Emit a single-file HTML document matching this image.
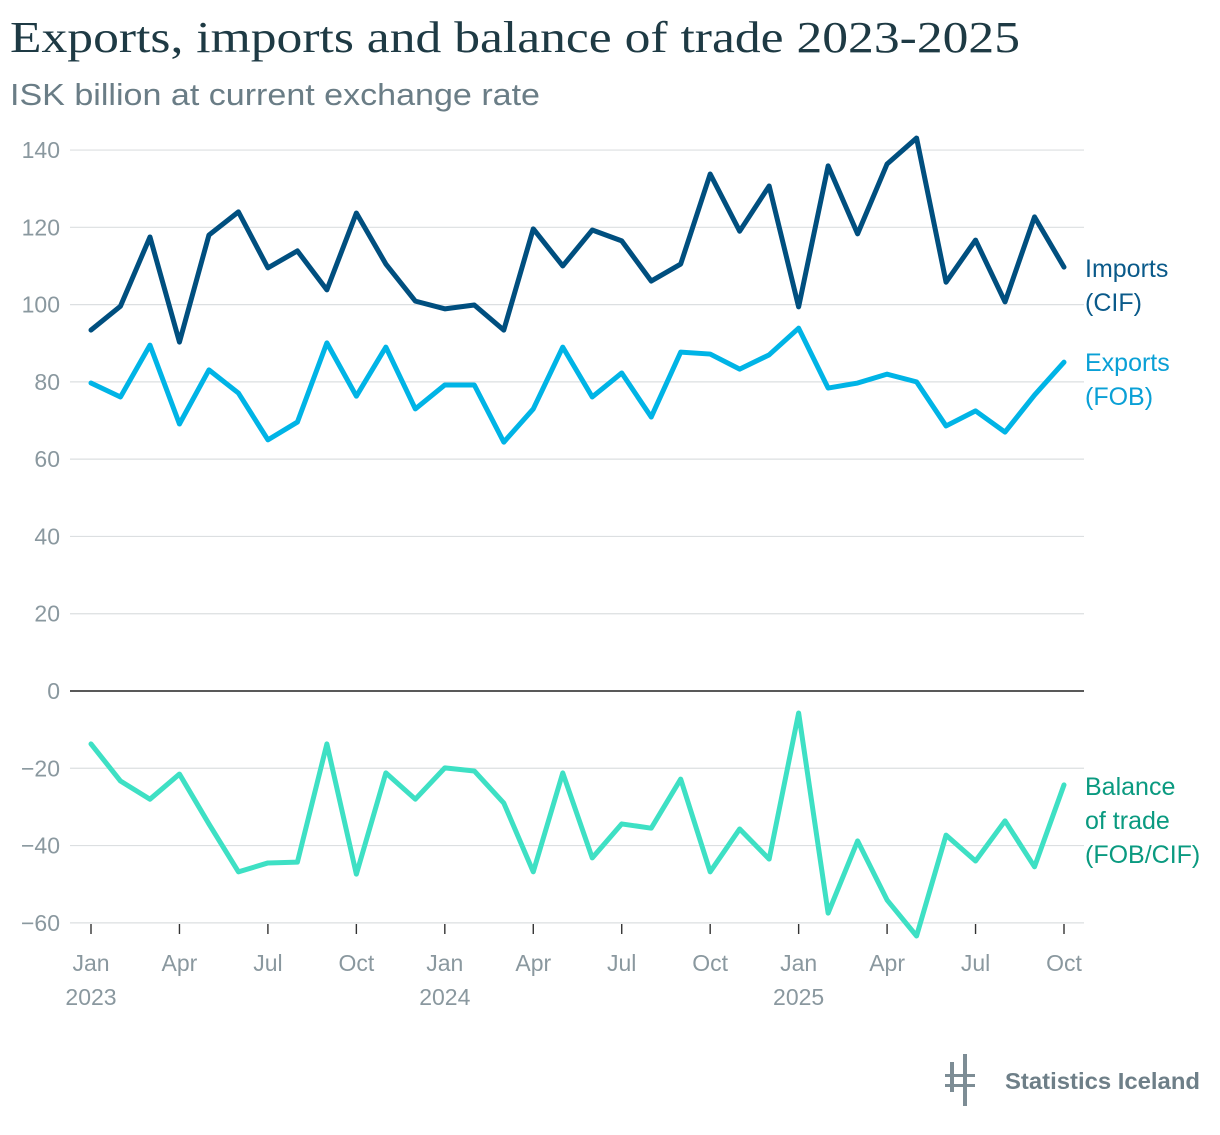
<!DOCTYPE html>
<html><head><meta charset="utf-8">
<style>
body{margin:0;background:#fff;width:1220px;height:1130px;overflow:hidden;font-family:"Liberation Sans",sans-serif;}
</style></head>
<body>
<svg id="chart" width="1220" height="1130" xmlns="http://www.w3.org/2000/svg">
<text x="10" y="52" font-family="Liberation Serif, serif" font-size="44" fill="#1e3a44" textLength="1010" lengthAdjust="spacingAndGlyphs">Exports, imports and balance of trade 2023-2025</text>
<text x="10" y="105" font-size="31" fill="#6a7d86" textLength="530" lengthAdjust="spacingAndGlyphs">ISK billion at current exchange rate</text>
<g id="grid"></g>
<g id="series"></g>
<g fill="#7d8d95">
<rect x="950" y="1062" width="4" height="30"/><rect x="963" y="1054" width="4" height="52"/>
<rect x="945" y="1074" width="30" height="3"/><rect x="945" y="1084" width="30" height="3"/>
<text x="1005" y="1089" font-size="23" font-weight="bold" fill="#6e7f88" textLength="195" lengthAdjust="spacingAndGlyphs">Statistics Iceland</text>
</g>
</svg>
<script>
const months=["Jan","Feb","Mar","Apr","May","Jun","Jul","Aug","Sep","Oct","Nov","Dec"];
const yTicks=[140,120,100,80,60,40,20,0,-20,-40,-60];
const imports=[93.4,99.6,117.5,90.3,118,124,109.5,113.9,103.8,123.7,110.5,100.9,98.9,99.9,93.4,119.6,110,119.3,116.5,106.1,110.5,133.8,119,130.7,99.4,135.9,118.3,136.4,143.1,105.8,116.7,100.7,122.7,109.7];
const exportsV=[79.7,76.1,89.5,69.1,83.1,77.1,65,69.6,90.1,76.3,89,73,79.2,79.2,64.4,73,89,76.1,82.3,70.9,87.7,87.2,83.3,87,93.9,78.4,79.7,82,80,68.6,72.5,67,76.6,85.1];
const balance=[-13.7,-23.3,-28,-21.5,-34.4,-46.8,-44.5,-44.3,-13.7,-47.4,-21.2,-28,-19.9,-20.7,-29,-46.8,-21.2,-43.2,-34.4,-35.5,-22.8,-46.8,-35.7,-43.5,-5.7,-57.5,-38.8,-54.1,-63.4,-37.3,-44,-33.6,-45.5,-24.3];
const NS="http://www.w3.org/2000/svg";
const y=v=>691-v*3.864;
const x=i=>91+i*(1064-91)/33;
const grid=document.getElementById('grid');
const ser=document.getElementById('series');
function mk(tag,attrs,parent,txt){const e=document.createElementNS(NS,tag);for(const k in attrs)e.setAttribute(k,attrs[k]);if(txt!==undefined)e.textContent=txt;parent.appendChild(e);return e;}
yTicks.forEach(v=>{
  const l=mk('line',{x1:70,x2:1084,y1:y(v),y2:y(v),stroke:v===0?'#222':'#dcdfe1','stroke-width':v===0?1.6:1.2},grid);
  
  
  const t=mk('text',{x:60,y:y(v)+8,'text-anchor':'end','font-size':23,fill:'#8a989f'},grid,v<0?'\u2212'+Math.abs(v):String(v));
  
  
});
for(let i=0;i<imports.length;i+=3){
  const tk=mk('line',{x1:x(i),x2:x(i),y1:924,y2:934,stroke:'#333','stroke-width':1.4},grid);
  
  
  const t=mk('text',{x:x(i),y:971,'text-anchor':'middle','font-size':23,fill:'#8a989f'},grid,months[i%12]);
  
  
  if(i%12===0){
    const yr=mk('text',{x:x(i),y:1005,'text-anchor':'middle','font-size':23,fill:'#8a989f'},grid,String(2023+i/12));
    
    
  }
}
function line(data,color,name,labels,ly,lc){
  const p=mk('polyline',{points:data.map((v,i)=>x(i)+','+y(v)).join(' '),fill:'none',stroke:color,'stroke-width':5,'stroke-linejoin':'round','stroke-linecap':'round'},ser);
  
  
  labels.forEach((s,k)=>{
    const t=mk('text',{x:1085,y:ly+k*34,'font-size':25,fill:lc},ser,s);
    
    
  });
}
line(imports,'#004f7f','imports',['Imports','(CIF)'],277,'#0a5a8a');
line(exportsV,'#00b4e6','exports',['Exports','(FOB)'],371,'#0aa0d6');
line(balance,'#3ee0c4','balance',['Balance','of trade','(FOB/CIF)'],795,'#0a9a80');
</script>
</body></html>
